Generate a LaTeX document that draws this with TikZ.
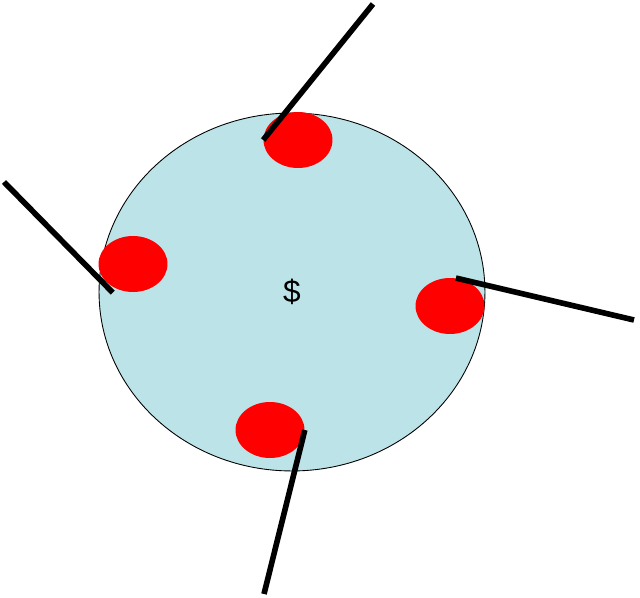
\documentclass[tikz,border=0pt]{standalone}
\usepackage{fontspec}
\setmainfont{Liberation Sans}
\usetikzlibrary{shapes.geometric,calc}
\definecolor{cor_disco}{RGB}{188,228,232}
\definecolor{cor_ponto}{RGB}{255,0,0}

\begin{document}
\begin{tikzpicture}[x=0.02cm,y=-0.02cm]
        \tikzset{
            disco/.style={
                ellipse,
                draw=black,
                line width=0.5pt,
                fill=cor_disco,
                minimum width=7.72cm,
                minimum height=7.16cm,
                inner sep=0pt,
                font=\fontsize{18}{21}\selectfont
            },
            ponto/.style={
                ellipse,
                fill=#1,
                minimum width=1.38cm,
                minimum height=1.12cm,
                inner sep=0pt
            },
            haste/.style={
                black,
                line width=3.2pt
            }
        }
        \useasboundingbox (0,0) rectangle (640,598);

        \node[disco] (disco) at (292,292) {\$};

        \node[ponto=cor_ponto] (cima) at (298,140) {};
        \node[ponto=cor_ponto] (esq) at (133,264) {};
        \node[ponto=cor_ponto] (dir) at (450,306) {};
        \node[ponto=cor_ponto] (baixo) at (270,430) {};

        %PONTAS DAS HASTES
        \coordinate (fim_cima) at (373,4);
        \coordinate (fim_esq) at (4,182);
        \coordinate (fim_dir) at (634,320);
        \coordinate (fim_baixo) at (264,594);

        \draw[haste] (cima.west) -- (fim_cima);
        \draw[haste] ($(esq.235)+(-3,4)$) -- (fim_esq);
        \draw[haste] (dir.78) -- (fim_dir);
        \draw[haste] (baixo.east) -- (fim_baixo);

    \end{tikzpicture}
\end{document}
